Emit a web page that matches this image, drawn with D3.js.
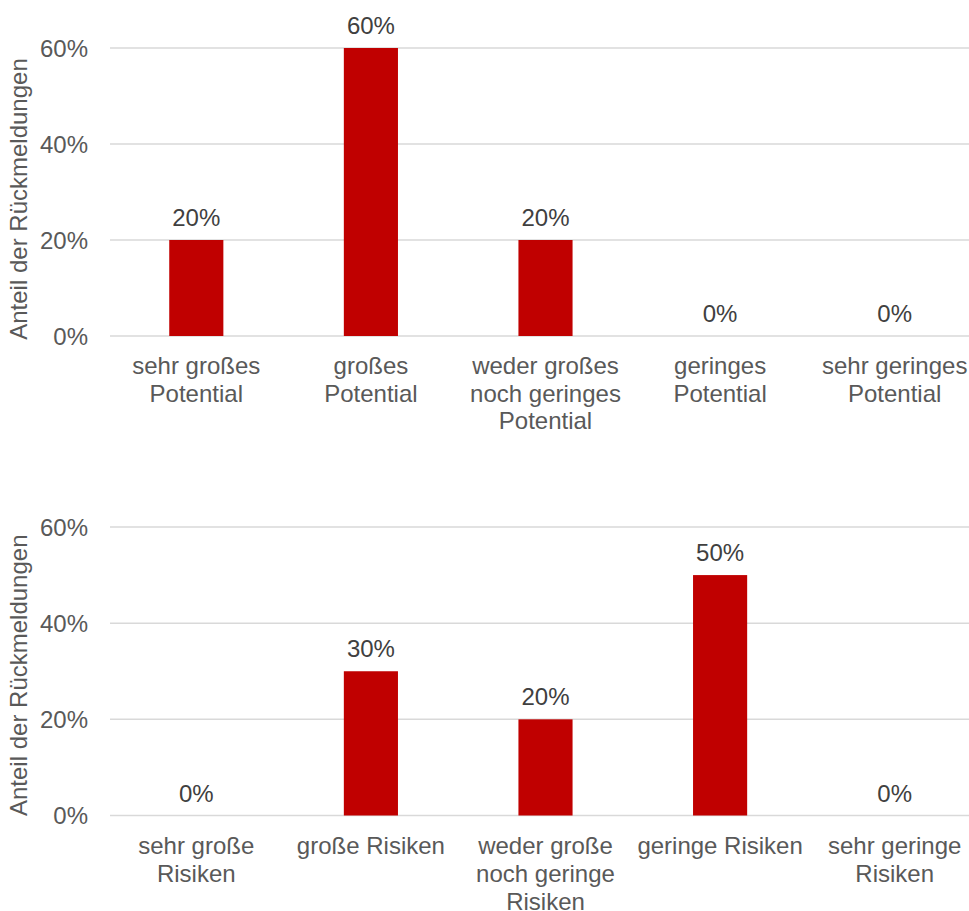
<!DOCTYPE html>
<html>
<head>
<meta charset="utf-8">
<script src="https://cdn.jsdelivr.net/npm/d3@7"></script>
<style>
  html, body { margin: 0; padding: 0; background: #fff; }
  svg { display: block; font-family: "Liberation Sans", Arial, sans-serif; }
</style>
</head>
<body>
<svg id="chart" width="969" height="911"></svg>
<script>
// ---- data ----
const potentialCategories = [
  ["sehr großes", "Potential"],
  ["großes", "Potential"],
  ["weder großes", "noch geringes", "Potential"],
  ["geringes", "Potential"],
  ["sehr geringes", "Potential"]
];
const potentialValues = [0.20, 0.60, 0.20, 0.00, 0.00];

const risikenCategories = [
  ["sehr große", "Risiken"],
  ["große Risiken"],
  ["weder große", "noch geringe", "Risiken"],
  ["geringe Risiken"],
  ["sehr geringe", "Risiken"]
];
const risikenValues = [0.00, 0.30, 0.20, 0.50, 0.00];

const yTicks = [0, 0.2, 0.4, 0.6];
const yTitle = "Anteil der Rückmeldungen";

// ---- drawing ----
const svg = d3.select("#chart");
const fmt = d3.format(".0%");
const barColor = "#C00000";
const gridColor = "#d9d9d9";
const textColor = "#595959";
const labelColor = "#404040";
const fontSize = 24;

function drawPanel(cats, vals, top, bottom, lineGap, titleShift) {
  const g = svg.append("g");
  const keys = cats.map((d, i) => i);
  const x = d3.scaleBand().domain(keys).range([109, 982])
    .paddingInner(0.69).paddingOuter(0.345);
  const y = d3.scaleLinear().domain([0, 0.6]).range([bottom, top]);

  // gridlines
  g.selectAll("line.grid").data(yTicks).enter().append("line")
    .attr("x1", 110).attr("x2", 969)
    .attr("y1", d => y(d)).attr("y2", d => y(d))
    .attr("stroke", gridColor).attr("stroke-width", 1.5);

  // y axis labels via d3 axis
  const yAxis = d3.axisLeft(y).tickValues(yTicks).tickFormat(fmt).tickSize(0).tickPadding(0);
  const ya = g.append("g").attr("transform", "translate(88,0)").call(yAxis);
  ya.select(".domain").remove();
  ya.selectAll("text").attr("fill", textColor).style("font-size", fontSize + "px")
    .style("font-family", '"Liberation Sans", Arial, sans-serif').attr("dy", "0.35em");

  // bars
  g.selectAll("rect.bar").data(vals).enter().append("rect")
    .attr("x", (d, i) => x(i))
    .attr("width", x.bandwidth())
    .attr("y", d => y(d))
    .attr("height", d => y(0) - y(d))
    .attr("fill", barColor);

  // data labels
  g.selectAll("text.val").data(vals).enter().append("text")
    .attr("x", (d, i) => x(i) + x.bandwidth() / 2)
    .attr("y", d => y(d) - 14)
    .attr("text-anchor", "middle")
    .attr("fill", labelColor)
    .style("font-size", fontSize + "px")
    .text(d => fmt(d));

  // category labels
  const cl = g.selectAll("text.cat").data(cats).enter().append("text")
    .attr("text-anchor", "middle")
    .attr("fill", textColor)
    .style("font-size", fontSize + "px");
  cl.each(function(lines, i) {
    const t = d3.select(this);
    lines.forEach((ln, j) => {
      t.append("tspan")
        .attr("x", x(i) + x.bandwidth() / 2)
        .attr("y", y(0) + 38 + j * lineGap)
        .text(ln);
    });
  });

  // y title
  svg.append("text")
    .attr("transform", `translate(27,${(top + bottom) / 2 + titleShift}) rotate(-90)`)
    .attr("text-anchor", "middle")
    .attr("fill", textColor)
    .style("font-size", fontSize + "px")
    .text(yTitle);
}

drawPanel(potentialCategories, potentialValues, 48, 336, 27.5, 7);
drawPanel(risikenCategories, risikenValues, 527, 815.5, 28, 4);
</script>
</body>
</html>
